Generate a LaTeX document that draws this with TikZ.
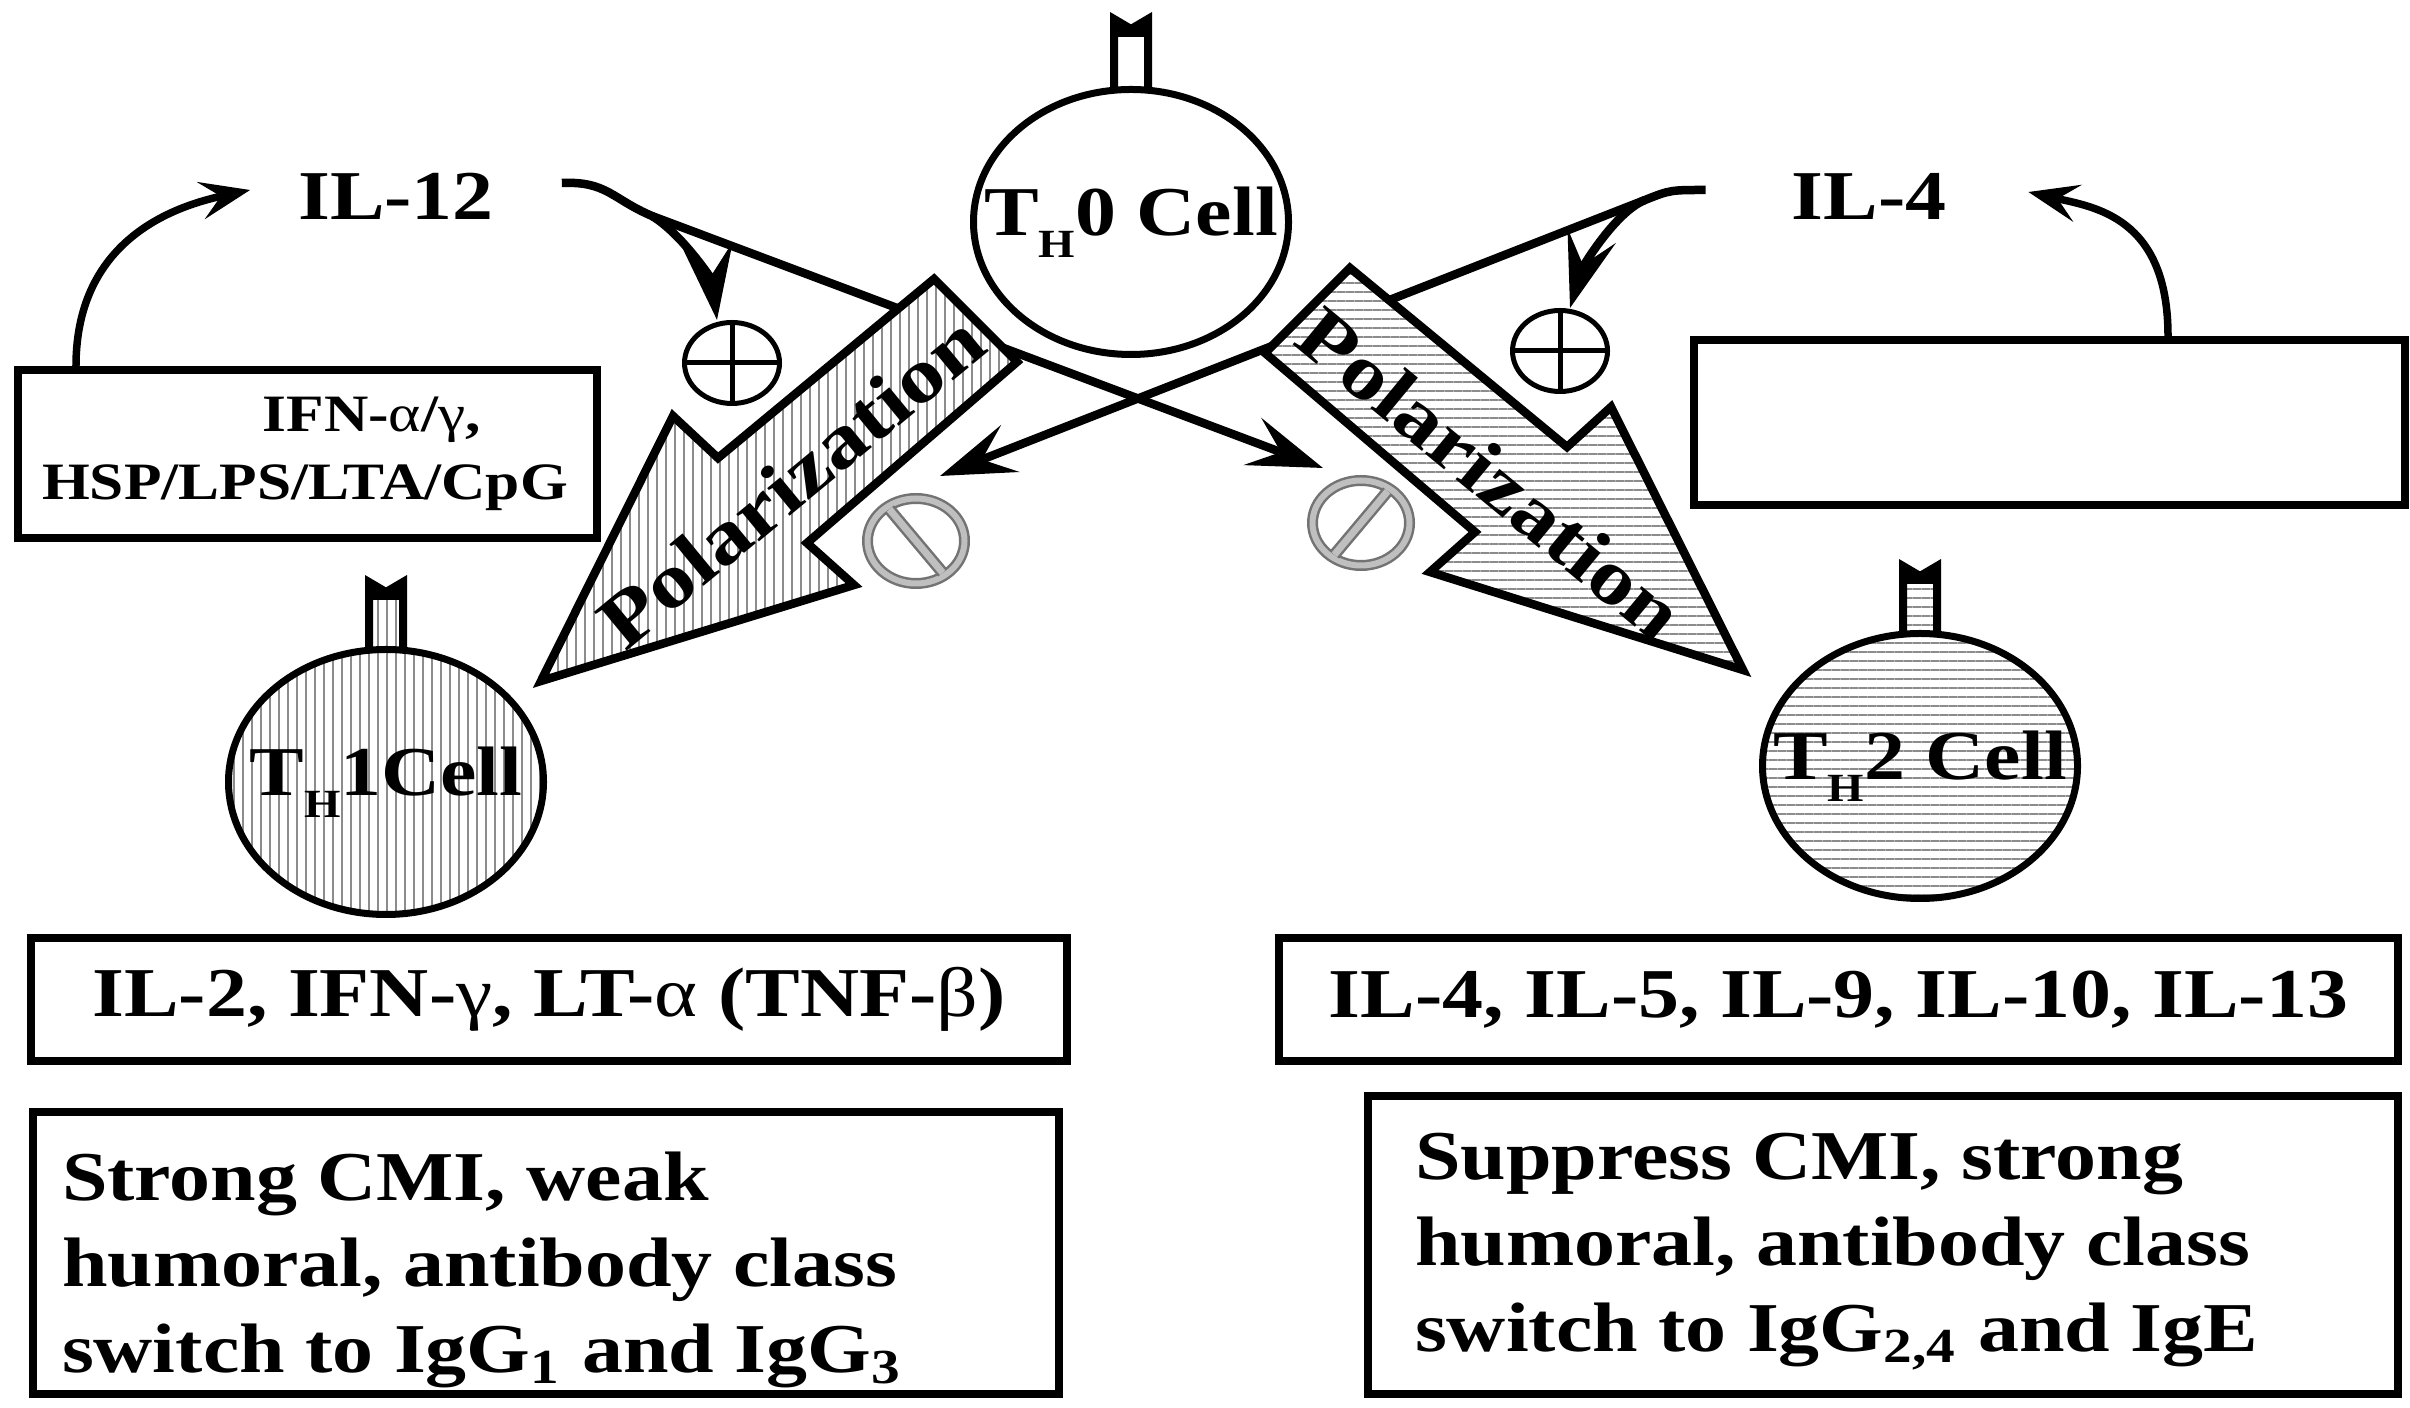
\documentclass[tikz,border=0pt]{standalone}
\usepackage{fontspec}
\setmainfont{Liberation Serif}[FakeStretch=1.17]
\usetikzlibrary{arrows.meta,calc,patterns.meta,shapes.geometric}

\tikzset{every picture/.style={line width=1.6pt}}
\tikzset{
  lbl/.style={font=\bfseries\fontsize{14}{17}\selectfont, inner sep=0pt},
  smalllbl/.style={font=\bfseries\fontsize{10.5}{13}\selectfont, inner sep=0pt},
  boxtxt/.style={font=\bfseries\fontsize{14}{17.2}\selectfont, inner sep=0pt},
  box/.style={draw, line width=1.6pt, fill=white, inner sep=0pt},
  cell/.style={ellipse, draw, line width=1.4pt, inner sep=0pt, minimum width=63pt, minimum height=53pt, font=\bfseries\fontsize{14}{17}\selectfont},
  vhatch/.style={preaction={fill=white}, pattern={Lines[angle=90,distance=1.8pt,line width=0.5pt]}, pattern color=black!45},
  hhatch/.style={preaction={fill=white}, pattern={Lines[angle=0,distance=1.8pt,line width=0.5pt]}, pattern color=black!45},
  plussign/.style={ellipse, draw, line width=1pt, minimum width=19pt, minimum height=16.2pt, inner sep=0pt},
  nosign/.style={ellipse, draw=black!55, double=black!25, double distance=1.2pt, line width=0.5pt, minimum width=19.4pt, minimum height=17pt, inner sep=0pt},
  nobar/.style={draw=black!55, double=black!25, double distance=1.4pt, line width=0.5pt, shorten <=0.9pt, shorten >=0.9pt},
  cytoarrow/.style={line width=1.7pt, -{Stealth[length=15pt,width=10pt,inset=6pt]}},
  backarrow/.style={line width=1.5pt, -{Stealth[length=10pt,width=7.5pt,inset=4pt]}},
  polarrow/.style={draw, line width=1.7pt, line join=miter},
  stalkline/.style={line width=1.6pt},
}
\newcommand{\sbH}{\raisebox{-4.5pt}{\fontsize{8}{8}\selectfont H}}
% receptor on top of a cell: #1 centre, #2 half height, #3 fill
\newcommand{\stalk}[3]{%
  \draw[stalkline,#3] ($(#1)+(-17,-#2+6)$) -- ++(0,-72) -- ++(17,10) -- ++(17,-10) -- ++(0,72);
  \draw[line width=2.6pt] ($(#1)+(-17,-#2-54)$) -- ++(34,0);
}

\begin{document}
\begin{tikzpicture}[x=0.2pt,y=0.2pt,yscale=-1,xscale=1]
	\useasboundingbox (0,0) rectangle (2410,1408);

	% cell centres
	\coordinate (c0) at (1131,222);
	\coordinate (c1) at (386,782);
	\coordinate (c2) at (1920,766);
	\coordinate (j12) at (652,216);
	\coordinate (j4) at (1645,200);

	% Stalks
	\stalk{c0}{137}{fill=white}
	\stalk{c1}{134}{vhatch}
	\stalk{c2}{134}{hhatch}

	% Text Node
	\node[lbl] (il12) at (396,196) {IL-12};
	% Text Node
	\node[lbl] (il4) at (1869,196) {IL-4};

	% Boxes
	\node[box, minimum width=115.8pt, minimum height=33.6pt] (lbox) at (307.5,454) {};
	\node[smalllbl, anchor=base] (ifn) at (372,432) {IFN-\textmd{α}/\textmd{γ},};
	\node[smalllbl, anchor=base] (hsp) at (305,500) {HSP/LPS/LTA/CpG};
	\node[box, minimum width=142.2pt, minimum height=33pt] (rbox) at (2049.5,422.5) {};

	% plus signs
	\node[plussign] (pl) at (732,363) {};
	\draw[line width=1pt] (pl.north) -- (pl.south) (pl.west) -- (pl.east);
	\node[plussign] (pr) at (1560,351) {};
	\draw[line width=1pt] (pr.north) -- (pr.south) (pr.west) -- (pr.east);

	% no signs
	\node[nosign] (nl) at (916,541) {};
	\draw[nobar] (nl.130) -- (nl.310);
	\node[nosign] (nr) at (1361,523) {};
	\draw[nobar] (nr.50) -- (nr.230);

	% Connection
	\draw[cytoarrow] ($(il12.east)+(64,-13)$) .. controls +(45,-2) and +(-40,-17) .. (j12) -- ($(nr.center)+(-38,-55)$);
	\draw[cytoarrow] (j12) .. controls +(30,18) and +(-5,-40) .. ([xshift=-3pt]pl.north);
	% Connection
	\draw[cytoarrow] ($(il4.west)+(-82,-6)$) .. controls +(-35,0) and +(25,-10) .. (j4) -- ($(nl.center)+(24,-65)$);
	\draw[cytoarrow] (j4) .. controls +(-30,12) and +(12,-40) .. ([xshift=2pt]pr.north);

	% Curved back arrows
	\draw[backarrow] ($(lbox.north west)+(62,0)$) .. controls +(0,-130) and +(-70,15) .. ($(il12.west)+(-44,-6)$);
	\draw[backarrow] ($(rbox.north west)+(478,0)$) .. controls +(0,-120) and +(65,15) .. ($(il4.east)+(78,-4)$);

	% Polarization arrows
	\draw[polarrow, vhatch] (934,279) -- (718,458) -- (673,416) -- (541,681) -- (854,585) -- (807,543) -- (1017,362) -- cycle;
	\node[lbl, font=\bfseries\fontsize{15.5}{18}\selectfont, rotate=39.5] (pol1) at (791,481) {Polarization};
	\draw[polarrow, hhatch] (1350,268) -- (1567,447) -- (1611,407) -- (1743,670) -- (1430,572) -- (1475,532) -- (1265,353) -- cycle;
	\node[lbl, font=\bfseries\fontsize{15.5}{18}\selectfont, rotate=-39.5] (pol2) at (1491,474) {Polarization};

	% Cells
	\node[cell, fill=white] (th0) at (c0) {\makebox[0pt]{T\sbH0 Cell}};
	\node[cell, vhatch] (th1) at (c1) {\makebox[0pt]{T\sbH1Cell}};
	\node[cell, hhatch] (th2) at (c2) {\makebox[0pt]{T\sbH2 Cell}};

	% Cytokine boxes
	\node[box, boxtxt, minimum width=207.2pt, minimum height=24.6pt] (b1) at (549,999.5) {IL-2, IFN-\textmd{γ}, LT-\textmd{α} (TNF-\textmd{β})};
	\node[box, boxtxt, minimum width=223.8pt, minimum height=24.6pt] (r1) at (1838.5,999.5) {IL-4, IL-5, IL-9, IL-10, IL-13};

	% Effect boxes
	\node[box, minimum width=205pt, minimum height=56.4pt] (b2) at (546,1253) {};
	\node[boxtxt, anchor=west, align=left] (b2txt) at (58,1270) {Strong CMI, weak\\humoral, antibody class\\switch to IgG\textsubscript{1} and IgG\textsubscript{3}};
	\node[box, minimum width=206pt, minimum height=59.6pt] (r2) at (1882.5,1245) {};
	\node[boxtxt, anchor=west, align=left] (r2txt) at (1411,1252) {Suppress CMI, strong\\humoral, antibody class\\switch to IgG\textsubscript{2,4} and IgE};

\end{tikzpicture}
\end{document}
